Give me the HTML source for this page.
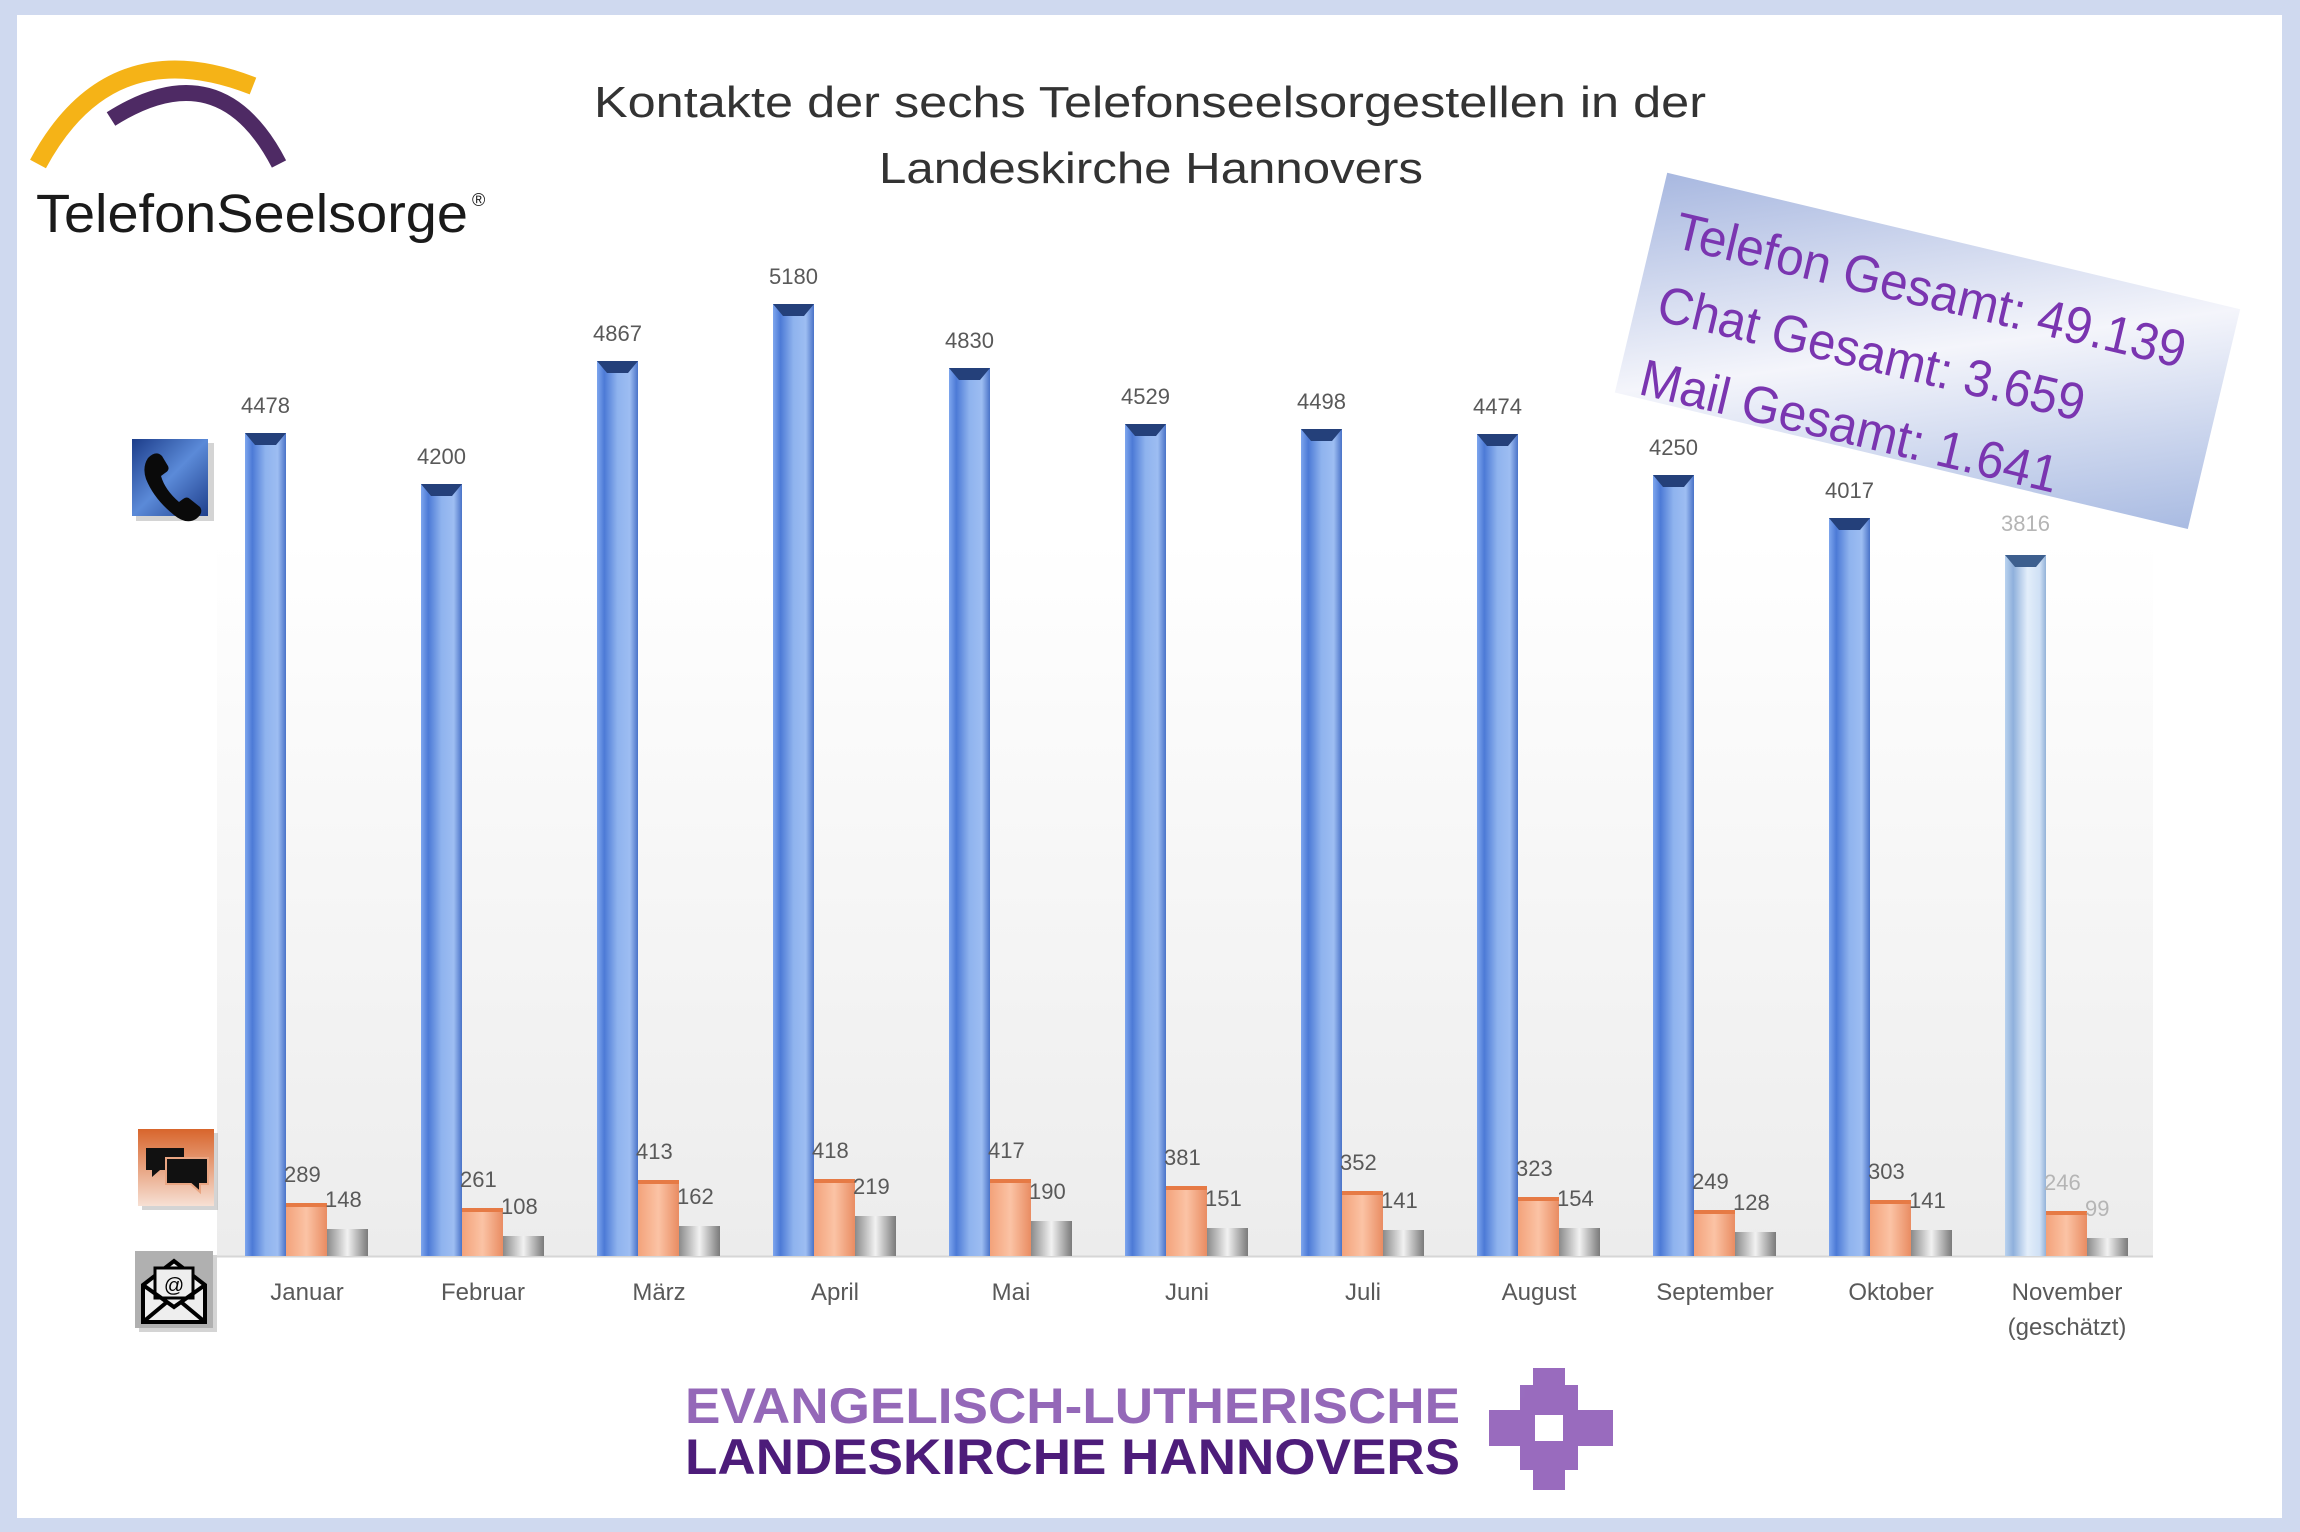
<!DOCTYPE html>
<html><head><meta charset="utf-8"><style>
html,body{margin:0;padding:0;background:#fff}
svg{display:block}
text{font-family:"Liberation Sans",sans-serif}
</style></head><body>
<svg width="2300" height="1532" viewBox="0 0 2300 1532" xmlns="http://www.w3.org/2000/svg">
<defs>
<linearGradient id="bl" x1="0" x2="1" y1="0" y2="0">
<stop offset="0" stop-color="#7ea6ee"/><stop offset="0.18" stop-color="#4c7ad6"/><stop offset="0.5" stop-color="#8fb3ee"/><stop offset="0.8" stop-color="#9dbdf2"/><stop offset="1" stop-color="#4a73c8"/></linearGradient>
<linearGradient id="blN" x1="0" x2="1" y1="0" y2="0">
<stop offset="0" stop-color="#b9d2ef"/><stop offset="0.2" stop-color="#8fb0dc"/><stop offset="0.55" stop-color="#e3eefa"/><stop offset="0.85" stop-color="#cfe0f5"/><stop offset="1" stop-color="#93b2d8"/></linearGradient>
<linearGradient id="or" x1="0" x2="1" y1="0" y2="0">
<stop offset="0" stop-color="#f3a27a"/><stop offset="0.5" stop-color="#fbc3a5"/><stop offset="1" stop-color="#e98c62"/></linearGradient>
<linearGradient id="gr" x1="0" x2="1" y1="0" y2="0">
<stop offset="0" stop-color="#8a8a8a"/><stop offset="0.5" stop-color="#f2f2f2"/><stop offset="1" stop-color="#7a7a7a"/></linearGradient>
<linearGradient id="pbg" x1="0" x2="0" y1="0" y2="1">
<stop offset="0" stop-color="#ffffff"/><stop offset="1" stop-color="#ececec"/></linearGradient>
<linearGradient id="box" x1="0" x2="1" y1="0" y2="1">
<stop offset="0" stop-color="#a8b8e0"/><stop offset="0.5" stop-color="#f4f5fb"/><stop offset="1" stop-color="#a9bbe2"/></linearGradient>
<linearGradient id="ph" x1="0" x2="1" y1="0" y2="1">
<stop offset="0" stop-color="#1c3d8a"/><stop offset="0.5" stop-color="#5b8ad8"/><stop offset="1" stop-color="#1f3f8c"/></linearGradient>
<linearGradient id="ch" x1="0" x2="0" y1="0" y2="1">
<stop offset="0" stop-color="#d8652c"/><stop offset="1" stop-color="#f7e0d4"/></linearGradient>
</defs>
<rect x="0" y="0" width="2300" height="1532" fill="#cfd9ef"/>
<rect x="17" y="15" width="2265" height="1503" fill="#ffffff"/>
<rect x="217" y="540" width="1936" height="716" fill="url(#pbg)"/>
<line x1="217" y1="1256.5" x2="2153" y2="1256.5" stroke="#d6d6d6" stroke-width="2"/>

<!-- logo -->
<path d="M38 164 Q 110 30 253 86" fill="none" stroke="#f5b317" stroke-width="18"/>
<path d="M111 119 Q 220 50 279 164" fill="none" stroke="#4e2a64" stroke-width="16"/>
<text x="36" y="232" font-size="54" fill="#1a1a1a" textLength="432" lengthAdjust="spacingAndGlyphs">TelefonSeelsorge</text>
<text x="472" y="206" font-size="18" fill="#1a1a1a">®</text>

<!-- title -->
<text x="594" y="117" font-size="44" fill="#333" textLength="1112" lengthAdjust="spacingAndGlyphs">Kontakte der sechs Telefonseelsorgestellen in der</text>
<text x="879" y="183" font-size="44" fill="#333" textLength="544" lengthAdjust="spacingAndGlyphs">Landeskirche Hannovers</text>

<!-- bars -->
<g>
<rect x="245" y="433" width="41" height="823" fill="url(#bl)"/>
<rect x="421" y="484" width="41" height="772" fill="url(#bl)"/>
<rect x="597" y="361" width="41" height="895" fill="url(#bl)"/>
<rect x="773" y="304" width="41" height="952" fill="url(#bl)"/>
<rect x="949" y="368" width="41" height="888" fill="url(#bl)"/>
<rect x="1125" y="424" width="41" height="832" fill="url(#bl)"/>
<rect x="1301" y="429" width="41" height="827" fill="url(#bl)"/>
<rect x="1477" y="434" width="41" height="822" fill="url(#bl)"/>
<rect x="1653" y="475" width="41" height="781" fill="url(#bl)"/>
<rect x="1829" y="518" width="41" height="738" fill="url(#bl)"/>
<rect x="2005" y="555" width="41" height="701" fill="url(#blN)"/>
</g>
<g fill="#24407a">
<path d="M245 433h41l-10 12h-21z"/><path d="M421 484h41l-10 12h-21z"/><path d="M597 361h41l-10 12h-21z"/><path d="M773 304h41l-10 12h-21z"/><path d="M949 368h41l-10 12h-21z"/><path d="M1125 424h41l-10 12h-21z"/><path d="M1301 429h41l-10 12h-21z"/><path d="M1477 434h41l-10 12h-21z"/><path d="M1653 475h41l-10 12h-21z"/><path d="M1829 518h41l-10 12h-21z"/><path d="M2005 555h41l-10 12h-21z" fill="#3d5f8e"/>
</g>
<g fill="url(#or)">
<rect x="286" y="1203" width="41" height="53"/><rect x="462" y="1208" width="41" height="48"/><rect x="638" y="1180" width="41" height="76"/><rect x="814" y="1179" width="41" height="77"/><rect x="990" y="1179" width="41" height="77"/><rect x="1166" y="1186" width="41" height="70"/><rect x="1342" y="1191" width="41" height="65"/><rect x="1518" y="1197" width="41" height="59"/><rect x="1694" y="1210" width="41" height="46"/><rect x="1870" y="1200" width="41" height="56"/><rect x="2046" y="1211" width="41" height="45"/>
</g>
<g fill="#e67a45">
<rect x="286" y="1203" width="41" height="4"/><rect x="462" y="1208" width="41" height="4"/><rect x="638" y="1180" width="41" height="4"/><rect x="814" y="1179" width="41" height="4"/><rect x="990" y="1179" width="41" height="4"/><rect x="1166" y="1186" width="41" height="4"/><rect x="1342" y="1191" width="41" height="4"/><rect x="1518" y="1197" width="41" height="4"/><rect x="1694" y="1210" width="41" height="4"/><rect x="1870" y="1200" width="41" height="4"/><rect x="2046" y="1211" width="41" height="4"/>
</g>
<g fill="url(#gr)">
<rect x="327" y="1229" width="41" height="27"/><rect x="503" y="1236" width="41" height="20"/><rect x="679" y="1226" width="41" height="30"/><rect x="855" y="1216" width="41" height="40"/><rect x="1031" y="1221" width="41" height="35"/><rect x="1207" y="1228" width="41" height="28"/><rect x="1383" y="1230" width="41" height="26"/><rect x="1559" y="1228" width="41" height="28"/><rect x="1735" y="1232" width="41" height="24"/><rect x="1911" y="1230" width="41" height="26"/><rect x="2087" y="1238" width="41" height="18"/>
</g>

<!-- value labels -->
<g font-size="22" fill="#595959" text-anchor="middle">
<text x="265.5" y="413">4478</text><text x="441.5" y="464">4200</text><text x="617.5" y="341">4867</text><text x="793.5" y="284">5180</text><text x="969.5" y="348">4830</text><text x="1145.5" y="404">4529</text><text x="1321.5" y="409">4498</text><text x="1497.5" y="414">4474</text><text x="1673.5" y="455">4250</text><text x="1849.5" y="498">4017</text><text x="2025.5" y="531" fill="#b5b5b5">3816</text>
</g>
<g font-size="22" fill="#595959">
<text x="284" y="1182">289</text><text x="460" y="1187">261</text><text x="636" y="1159">413</text><text x="812" y="1158">418</text><text x="988" y="1158">417</text><text x="1164" y="1165">381</text><text x="1340" y="1170">352</text><text x="1516" y="1176">323</text><text x="1692" y="1189">249</text><text x="1868" y="1179">303</text><text x="2044" y="1190" fill="#b5b5b5">246</text>
<text x="325" y="1207">148</text><text x="501" y="1214">108</text><text x="677" y="1204">162</text><text x="853" y="1194">219</text><text x="1029" y="1199">190</text><text x="1205" y="1206">151</text><text x="1381" y="1208">141</text><text x="1557" y="1206">154</text><text x="1733" y="1210">128</text><text x="1909" y="1208">141</text><text x="2085" y="1216" fill="#b5b5b5">99</text>
</g>
<g font-size="24" fill="#595959" text-anchor="middle">
<text x="307" y="1300">Januar</text><text x="483" y="1300">Februar</text><text x="659" y="1300">März</text><text x="835" y="1300">April</text><text x="1011" y="1300">Mai</text><text x="1187" y="1300">Juni</text><text x="1363" y="1300">Juli</text><text x="1539" y="1300">August</text><text x="1715" y="1300">September</text><text x="1891" y="1300">Oktober</text><text x="2067" y="1300">November</text><text x="2067" y="1335">(geschätzt)</text>
</g>

<!-- icons -->
<rect x="136" y="443" width="78" height="78" fill="#aaa" opacity="0.5"/>
<rect x="132" y="439" width="76" height="77" fill="url(#ph)"/>
<path d="M148 458 q8 -8 14 -2 l6 10 q2 4 -3 7 l-4 3 q4 14 18 26 l4 -3 q4 -3 7 0 l10 8 q4 6 -4 12 q-10 6 -22 -4 q-20 -16 -28 -36 q-4 -12 2 -21z" fill="#0a0a0a"/>
<rect x="142" y="1133" width="76" height="77" fill="#aaa" opacity="0.5"/>
<rect x="138" y="1129" width="76" height="77" fill="url(#ch)"/>
<path d="M146 1148h38v22h-24l-8 7v-7h-6z" fill="#111"/>
<path d="M166 1158h42v26h-8v8l-9-8h-25z" fill="#111" stroke="#e9a582" stroke-width="2"/>
<rect x="139" y="1255" width="78" height="77" fill="#aaa" opacity="0.5"/>
<rect x="135" y="1251" width="78" height="77" fill="#b0b0b0"/>
<path d="M143 1285 l31 -24 l31 24 v37 h-62z" fill="#eee" stroke="#000" stroke-width="4"/>
<rect x="155" y="1268" width="38" height="30" fill="#eee" stroke="#000" stroke-width="3"/>
<text x="174" y="1292" font-size="20" text-anchor="middle" fill="#000">@</text>
<path d="M143 1285 l31 22 l31 -22 M143 1322 l24 -20 M205 1322 l-24 -20" fill="none" stroke="#000" stroke-width="4"/>

<!-- summary box -->
<g transform="translate(1928 351) rotate(13.4)">
<rect x="-295" y="-113" width="589" height="226" fill="url(#box)"/>
<g font-size="52" fill="#7a35b0">
<text x="-273" y="-42" textLength="523" lengthAdjust="spacingAndGlyphs">Telefon Gesamt: 49.139</text>
<text x="-273" y="33" textLength="437" lengthAdjust="spacingAndGlyphs">Chat Gesamt: 3.659</text>
<text x="-273" y="109" textLength="428" lengthAdjust="spacingAndGlyphs">Mail Gesamt: 1.641</text>
</g>
</g>

<!-- bottom logo -->
<text x="685" y="1423" font-size="50" font-weight="bold" fill="#9468b8" textLength="775" lengthAdjust="spacingAndGlyphs">EVANGELISCH-LUTHERISCHE</text>
<text x="685" y="1474" font-size="50" font-weight="bold" fill="#4d1c7a" textLength="775" lengthAdjust="spacingAndGlyphs">LANDESKIRCHE HANNOVERS</text>
<g fill="#8e5cb8" opacity="0.9">
<rect x="1533" y="1368" width="32" height="40"/>
<rect x="1520" y="1385" width="58" height="30"/>
<rect x="1489" y="1410" width="124" height="36"/>
<rect x="1520" y="1440" width="58" height="30"/>
<rect x="1533" y="1460" width="32" height="30"/>
</g>
<rect x="1535" y="1415" width="28" height="26" fill="#fff"/>
</svg>
</body></html>
